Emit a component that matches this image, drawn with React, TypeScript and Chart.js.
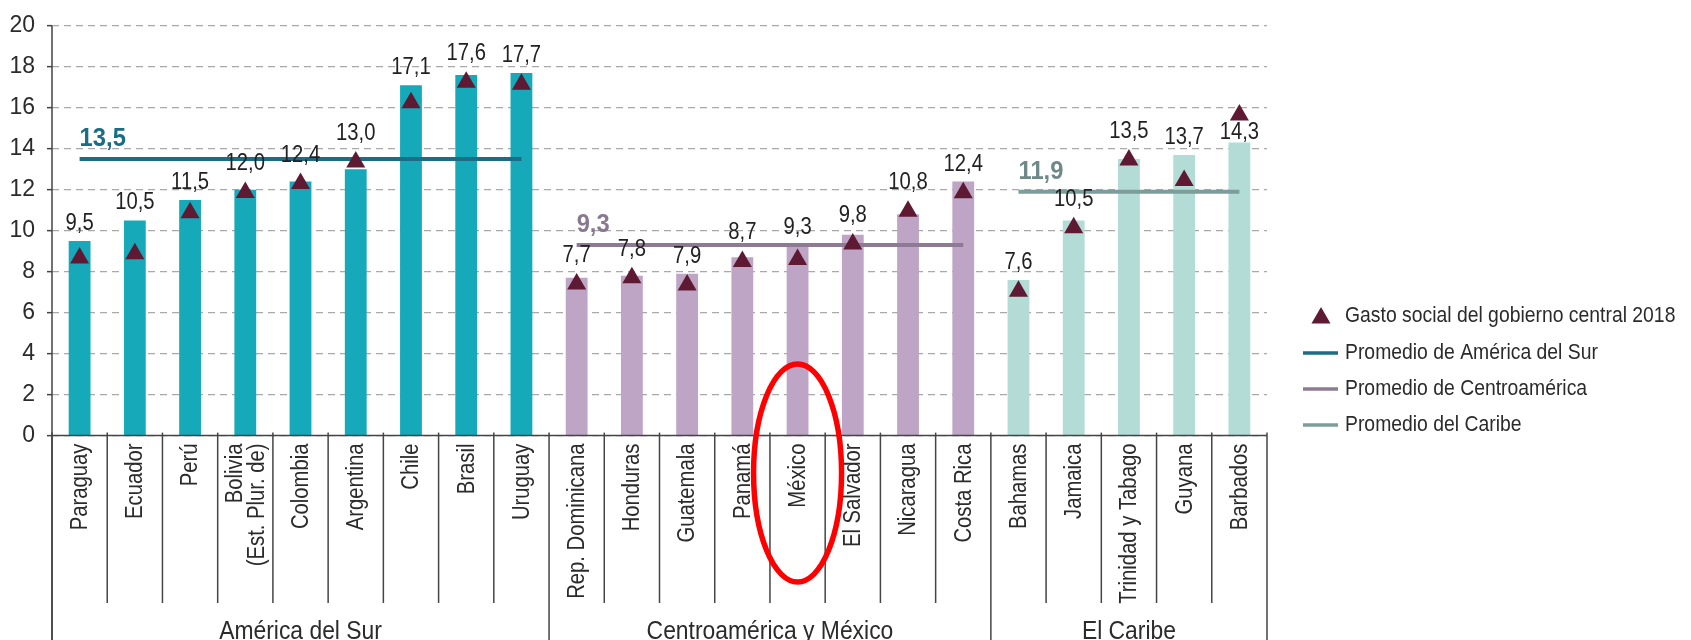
import React, { useEffect, useRef } from "react";
import { Chart, registerables } from "chart.js";

Chart.register(...registerables);

// ---------- data ----------
const categories: (string | string[])[] = [
  "Paraguay", "Ecuador", "Perú", ["Bolivia", "(Est. Plur. de)"], "Colombia", "Argentina", "Chile", "Brasil", "Uruguay",
  "Rep. Dominicana", "Honduras", "Guatemala", "Panamá", "México", "El Salvador", "Nicaragua", "Costa Rica",
  "Bahamas", "Jamaica", "Trinidad y Tabago", "Guyana", "Barbados",
];
const groupNames = ["América del Sur", "Centroamérica y México", "El Caribe"];
const groupSizes = [9, 8, 5];
const barValues = [
  9.5, 10.5, 11.5, 12.0, 12.4, 13.0, 17.1, 17.6, 17.7,
  7.7, 7.8, 7.9, 8.7, 9.3, 9.8, 10.8, 12.4,
  7.6, 10.5, 13.5, 13.7, 14.3,
];
const centralGovValues = [
  8.67, 8.87, 10.87, 11.87, 12.3, 13.35, 16.25, 17.25, 17.15,
  7.4, 7.7, 7.35, 8.5, 8.6, 9.35, 10.95, 11.85,
  7.05, 10.15, 13.45, 12.45, 15.65,
];
const groupAverages = [13.5, 9.3, 11.9];
const legendLabels = [
  "Gasto social del gobierno central 2018",
  "Promedio de América del Sur",
  "Promedio de Centroamérica",
  "Promedio del Caribe",
];
const yMin = 0;
const yMax = 20;
const yStep = 2;
const highlightedCategory = "México";

// ---------- styles ----------
const FONT = "'Liberation Sans', Arial, sans-serif";
const SX = 0.88; // horizontal condensing of text
const barColors = ["#16a9b9", "#bea5c6", "#b3dcd6"];
const avgLineColors = ["#1a6d84", "#8d7b93", "#7d9d9a"];
const avgLabelColors = ["#1a6d84", "#8a7890", "#6e8987"];
const triangleColor = "#5f1a33";
const TRI_R = 11;
const textColor = "#2b2b2b";
const axisColor = "#444";

const fmt = (v: number) => v.toFixed(1).replace(".", ",");

function groupIndexOf(i: number) {
  let acc = 0;
  for (let g = 0; g < groupSizes.length; g++) {
    acc += groupSizes[g];
    if (i < acc) return g;
  }
  return groupSizes.length - 1;
}
function groupStart(g: number) {
  let s = 0;
  for (let k = 0; k < g; k++) s += groupSizes[k];
  return s;
}
function fillCondensed(ctx: CanvasRenderingContext2D, text: string, x: number, y: number, sx = SX) {
  ctx.save();
  ctx.translate(x, y);
  ctx.scale(sx, 1);
  ctx.fillText(text, 0, 0);
  ctx.restore();
}

const overlayPlugin = {
  id: "overlay",
  afterDatasetsDraw(chart: any) {
    const { ctx, chartArea, scales } = chart;
    const x = scales.x;
    const y = scales.y;
    const bottom = chartArea.bottom;
    const H = chart.height;

    ctx.save();
    // axis lines
    ctx.strokeStyle = axisColor;
    ctx.lineWidth = 1.5;
    ctx.beginPath();
    ctx.moveTo(chartArea.left, chartArea.top);
    ctx.lineTo(chartArea.left, H);
    ctx.moveTo(chartArea.left, bottom);
    ctx.lineTo(chartArea.right, bottom);
    ctx.stroke();

    // dividers between categories
    const boundaries: number[] = [0];
    let acc = 0;
    groupSizes.forEach((s) => { acc += s; boundaries.push(acc); });
    for (let b = 0; b <= categories.length; b++) {
      const px = x.getPixelForValue(b - 0.5);
      const isGroupEdge = boundaries.includes(b);
      ctx.beginPath();
      ctx.moveTo(px, bottom - 3);
      ctx.lineTo(px, isGroupEdge ? H : 603);
      ctx.stroke();
    }

    // category labels
    ctx.fillStyle = textColor;
    ctx.font = `23px ${FONT}`;
    ctx.textAlign = "right";
    ctx.textBaseline = "middle";
    const LH = 22;
    categories.forEach((c, i) => {
      const lines = Array.isArray(c) ? c : [c];
      const px = x.getPixelForValue(i);
      ctx.save();
      ctx.translate(px + 1, bottom + 8);
      ctx.rotate(-Math.PI / 2);
      ctx.scale(SX, 1);
      lines.forEach((ln, k) => {
        ctx.fillText(ln, 0, (k - (lines.length - 1) / 2) * LH);
      });
      ctx.restore();
    });

    // group labels
    ctx.font = `26px ${FONT}`;
    ctx.textAlign = "center";
    ctx.textBaseline = "alphabetic";
    groupNames.forEach((name, g) => {
      const s = groupStart(g);
      const e = s + groupSizes[g];
      const cx = (x.getPixelForValue(s - 0.5) + x.getPixelForValue(e - 0.5)) / 2;
      fillCondensed(ctx, name, cx, 639);
    });

    // value labels
    ctx.font = `23px ${FONT}`;
    ctx.fillStyle = "#222";
    barValues.forEach((v, i) => {
      const px = x.getPixelForValue(i);
      const t = centralGovValues[i];
      const barTop = y.getPixelForValue(v);
      const triTop = y.getPixelForValue(t) - TRI_R;
      let anchor: number;
      if (t - v > 1) anchor = barTop - 4;
      else anchor = Math.min(barTop, triTop) - 11;
      fillCondensed(ctx, fmt(v), px, anchor);
    });

    // average labels
    ctx.font = `bold 25px ${FONT}`;
    ctx.textAlign = "left";
    groupAverages.forEach((a, g) => {
      const px = x.getPixelForValue(groupStart(g));
      ctx.fillStyle = avgLabelColors[g];
      fillCondensed(ctx, fmt(a), px, y.getPixelForValue(a) - 13, 0.95);
    });

    ctx.restore();
  },
  afterDraw(chart: any) {
    const { ctx, scales } = chart;
    const x = scales.x;
    const datasets = chart.data.datasets;
    ctx.save();
    // legend
    const lx = 1303;
    const tx = 1345;
    const rowY = [316, 353, 389, 425];
    ctx.font = `22px ${FONT}`;
    ctx.textAlign = "left";
    ctx.textBaseline = "middle";
    for (let k = 0; k < 4; k++) {
      const ds = datasets[k];
      const yy = rowY[k];
      if (k === 0) {
        ctx.fillStyle = ds.pointBackgroundColor;
        const cx = 1321;
        const cy = yy + 2;
        ctx.beginPath();
        ctx.moveTo(cx, cy - TRI_R);
        ctx.lineTo(cx + TRI_R * Math.sin((2 * Math.PI) / 3), cy - TRI_R * Math.cos((2 * Math.PI) / 3));
        ctx.lineTo(cx + TRI_R * Math.sin((4 * Math.PI) / 3), cy - TRI_R * Math.cos((4 * Math.PI) / 3));
        ctx.closePath();
        ctx.fill();
      } else {
        ctx.strokeStyle = ds.borderColor;
        ctx.lineWidth = 3.5;
        ctx.beginPath();
        ctx.moveTo(lx, yy);
        ctx.lineTo(lx + 35, yy);
        ctx.stroke();
      }
      ctx.fillStyle = textColor;
      fillCondensed(ctx, ds.label, tx, yy);
    }

    // highlight ellipse
    const idx = categories.indexOf(highlightedCategory);
    if (idx >= 0) {
      const cx = x.getPixelForValue(idx);
      ctx.strokeStyle = "#ff0000";
      ctx.lineWidth = 5.5;
      ctx.beginPath();
      ctx.ellipse(cx, 473, 44, 109, 0, 0, Math.PI * 2);
      ctx.stroke();
    }
    ctx.restore();
  },
};

export default function App() {
  const ref = useRef<HTMLCanvasElement | null>(null);
  useEffect(() => {
    document.body.style.margin = "0";
    const canvas = ref.current;
    if (!canvas) return;
    const avgData = groupAverages.map((a, g) =>
      categories.map((_, i) => (groupIndexOf(i) === g ? a : null))
    );
    const chart = new Chart(canvas, {
      type: "bar",
      data: {
        labels: categories.map((c) => (Array.isArray(c) ? c.join(" ") : c)),
        datasets: [
          {
            type: "line",
            label: legendLabels[0],
            data: centralGovValues,
            showLine: false,
            pointStyle: "triangle",
            pointRadius: TRI_R,
            pointHoverRadius: TRI_R,
            pointBackgroundColor: triangleColor,
            pointBorderColor: triangleColor,
            pointBorderWidth: 0,
            borderColor: triangleColor,
            backgroundColor: triangleColor,
            order: 0,
          } as any,
          ...avgData.map((d, g) => ({
            type: "line",
            label: legendLabels[g + 1],
            data: d,
            borderColor: avgLineColors[g],
            backgroundColor: avgLineColors[g],
            borderWidth: 4,
            pointRadius: 0,
            fill: false,
            spanGaps: false,
            order: 1,
          })) as any,
          {
            type: "bar",
            label: "",
            data: barValues,
            backgroundColor: barValues.map((_, i) => barColors[groupIndexOf(i)]),
            barPercentage: 0.395,
            categoryPercentage: 1,
            order: 3,
          } as any,
        ],
      },
      options: {
        responsive: false,
        animation: false,
        devicePixelRatio: 1,
        layout: { padding: { top: 25, right: 424, bottom: 37, left: 0 } },
        plugins: { legend: { display: false }, tooltip: { enabled: false } },
        scales: {
          x: {
            grid: { display: false, drawTicks: false },
            border: { display: false },
            ticks: { display: false },
            afterFit: (s: any) => { s.height = 167.4; },
          },
          y: {
            min: yMin,
            max: yMax,
            ticks: {
              stepSize: yStep,
              color: textColor,
              font: { family: FONT, size: 23 },
              padding: 12,
            },
            grid: {
              color: "#a9a9a9",
              lineWidth: 1.3,
              drawTicks: true,
              tickLength: 5,
              tickColor: axisColor,
              tickWidth: 1.5,
              tickBorderDash: [],
            },
            border: { display: false, dash: [7, 5] },
            afterFit: (s: any) => { s.width = 52; },
          },
        },
      } as any,
      plugins: [overlayPlugin],
    });
    return () => chart.destroy();
  }, []);
  return (
    <div style={{ width: 1691, height: 640 }}>
      <canvas ref={ref} width={1691} height={640} style={{ display: "block" }} />
    </div>
  );
}
